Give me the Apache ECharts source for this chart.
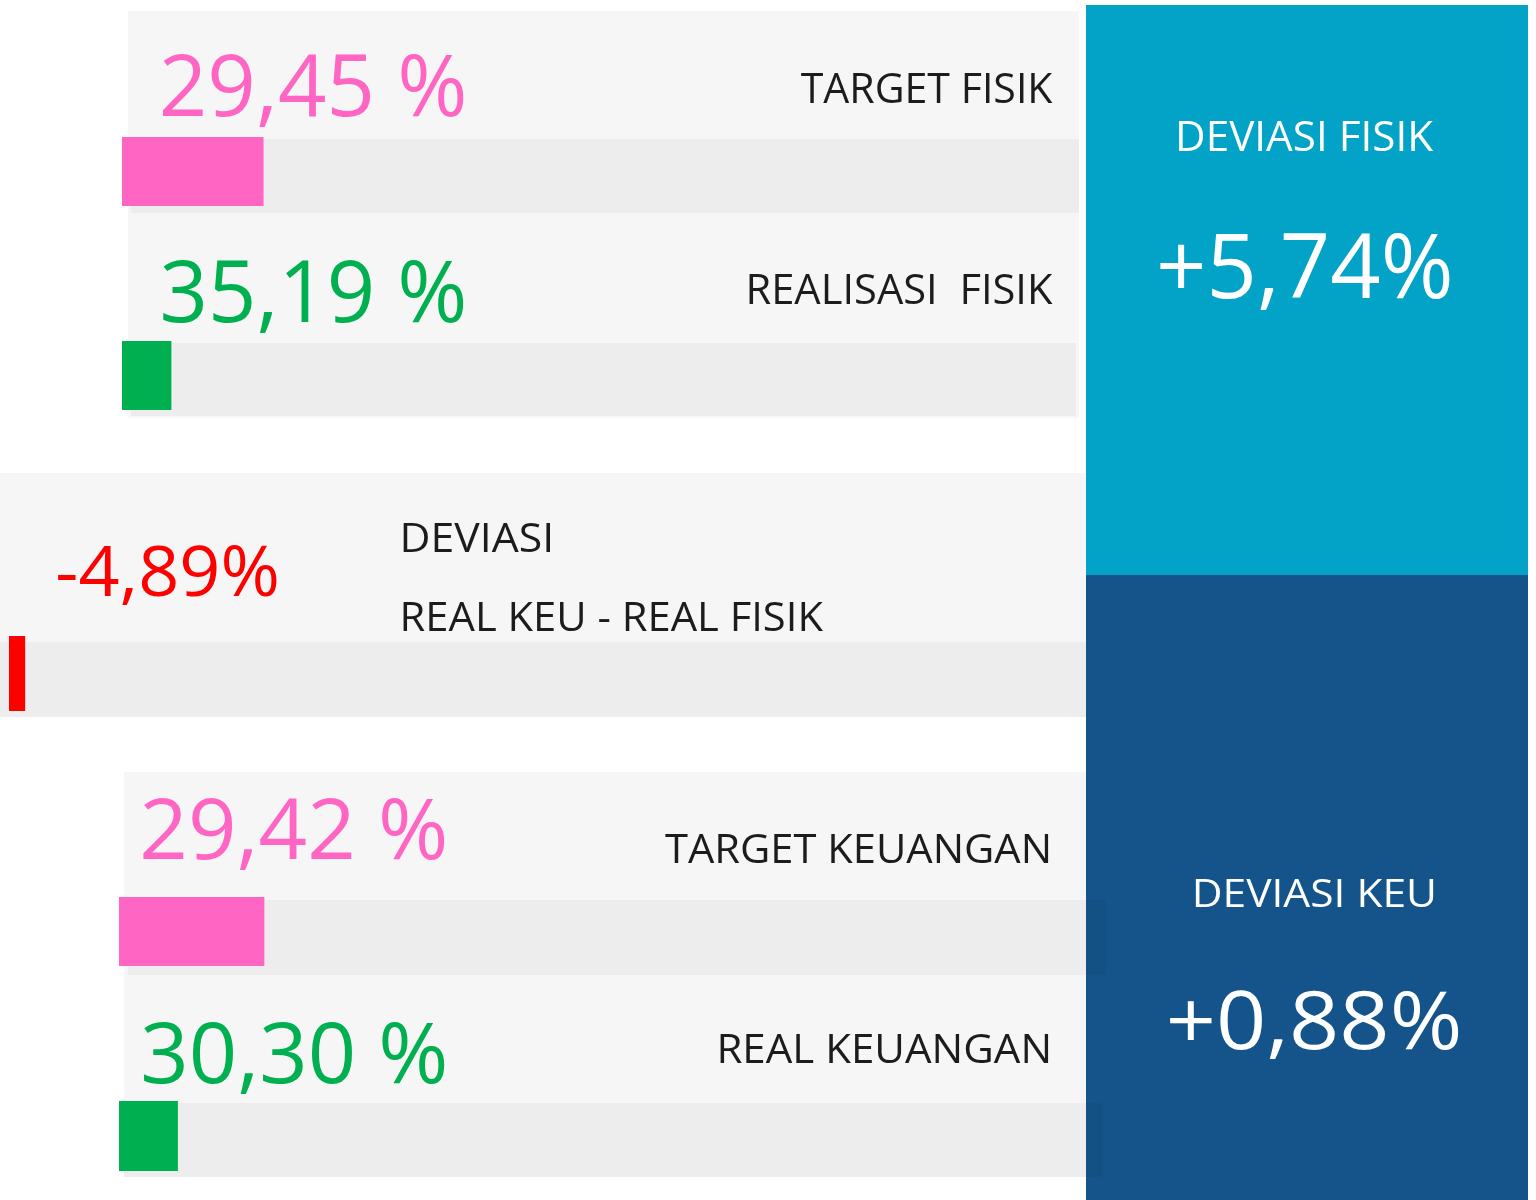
<!DOCTYPE html>
<html>
<head>
<meta charset="utf-8">
<script src="https://cdn.jsdelivr.net/npm/echarts@6/dist/echarts.min.js"></script>
<style>
html,body{margin:0;padding:0;background:#ffffff;}
#chart{width:1536px;height:1200px;}
</style>
</head>
<body>
<div id="chart"></div>
<script>
// ---------------- DATA ----------------
const categories = ['TARGET FISIK', 'REALISASI  FISIK', 'DEVIASI', 'TARGET KEUANGAN', 'REAL KEUANGAN'];
const values = [29.45, 35.19, -4.89, 29.42, 30.30];           // percentages shown
const barFill = [14.9, 5.2, 1.7, 15.3, 6.2];                  // indicator bar length (% of track)
const deviationLabels = ['DEVIASI FISIK', 'DEVIASI KEU'];
const deviationValues = [5.74, 0.88];
const deviasiSubLabel = 'REAL KEU - REAL FISIK';

// ---------------- STYLE / LAYOUT ----------------
const PINK = '#ff66c4', GREEN = '#00b050', RED = '#ff0000';
const CYAN = '#03a2c7', NAVY = '#14548a';
const BG = '#f6f6f6', TRACK = '#ededed', DARK = '#1c1c1c';
const barColors = [PINK, GREEN, RED, PINK, GREEN];
const FONT = '"Open Sans", "Noto Sans", sans-serif';

// bar geometry per row: left, top, height
const barGeo = [
  {left: 122, top: 137, h: 69},
  {left: 122, top: 341, h: 69},
  {left: 9,   top: 636, h: 75},
  {left: 119, top: 897, h: 69},
  {left: 119, top: 1101, h: 70}
];
const TRACK_W = 950;

function fmt(v, sign, space) {
  let s = Math.abs(v).toFixed(2).replace('.', ',');
  if (v < 0) s = '-' + s; else if (sign) s = '+' + s;
  return s + (space ? ' %' : '%');
}

const cv = document.createElement('canvas');
const ctx = cv.getContext('2d');
function fitText(t) {
  const ref = t.ref || 'E';
  ctx.font = '100px ' + FONT;
  ctx.textBaseline = 'alphabetic';
  const r = ctx.measureText(ref).actualBoundingBoxAscent / 100;
  const fs = t.capH / r;
  ctx.font = fs + 'px ' + FONT;
  ctx.textBaseline = 'middle';
  const m = ctx.measureText(t.text);
  const inkW = m.actualBoundingBoxLeft + m.actualBoundingBoxRight;
  const s = (t.right - t.left) / inkW;
  const x = t.left + s * m.actualBoundingBoxLeft;
  const mr = ctx.measureText(ref);
  const y = t.base - mr.actualBoundingBoxDescent;
  return {
    type: 'text', x: x, y: y, scaleX: s, z: 10, silent: true,
    style: {text: t.text, x: 0, y: 0, fontSize: fs, fontFamily: FONT,
            fill: t.color, align: 'left', verticalAlign: 'middle'}
  };
}

const texts = [
  {text: fmt(values[0], false, true), color: PINK, ref: '0', left: 162.7, right: 464, base: 116.7, capH: 64},
  {text: fmt(values[1], false, true), color: GREEN, ref: '0', left: 162.5, right: 464, base: 323, capH: 64},
  {text: fmt(values[2], false, false), color: RED, ref: '0', left: 57.3, right: 276.7, base: 596.7, capH: 52},
  {text: categories[2], color: DARK, left: 402.7, right: 550.7, base: 551.7, capH: 29},
  {text: deviasiSubLabel, color: DARK, left: 402.7, right: 823.3, base: 630.7, capH: 29},
  {text: categories[0], color: DARK, left: 800.7, right: 1053, base: 103.3, capH: 30},
  {text: categories[1], color: DARK, left: 749.5, right: 1053, base: 303.5, capH: 30},
  {text: fmt(values[3], false, true), color: PINK, ref: '0', left: 143.3, right: 445, base: 860, capH: 62},
  {text: fmt(values[4], false, true), color: GREEN, ref: '0', left: 143.3, right: 445, base: 1084, capH: 62},
  {text: categories[3], color: DARK, left: 665, right: 1048.3, base: 863.3, capH: 29.3},
  {text: categories[4], color: DARK, left: 719.5, right: 1048.3, base: 1063, capH: 29.3},
  {text: deviationLabels[0], color: '#ffffff', left: 1179, right: 1434, base: 150.7, capH: 30.7},
  {text: fmt(deviationValues[0], true, false), color: '#ffffff', ref: '0', left: 1160, right: 1450, base: 299, capH: 66},
  {text: deviationLabels[1], color: '#ffffff', left: 1195, right: 1433.3, base: 907.3, capH: 28},
  {text: fmt(deviationValues[1], true, false), color: '#ffffff', ref: '0', left: 1170, right: 1458, base: 1050, capH: 60}
];

function rect(x, y, w, h, fill, z) {
  return {type: 'rect', silent: true, z: z, shape: {x: x, y: y, width: w, height: h}, style: {fill: fill}};
}

const graphics = [
  // panel backgrounds
  rect(128, 11, 951, 202, BG, 0),
  rect(131, 139, 948, 74, TRACK, 1),
  rect(128, 213, 951, 205, BG, 0),
  rect(131, 343, 945, 73, TRACK, 1),
  rect(0, 473, 1090, 244, BG, 0),
  rect(0, 642, 1090, 75, TRACK, 1),
  rect(124, 772, 962, 203, BG, 0),
  rect(128, 900, 958, 75, TRACK, 1),
  rect(124, 975, 962, 202, BG, 0),
  rect(124, 1103, 962, 74, TRACK, 1),
  // right boxes
  rect(1086, 5, 442, 570, CYAN, 3),
  rect(1086, 575, 442, 625, NAVY, 3),
  // tracks overlapping the navy box
  rect(1086, 900, 20, 75, 'rgba(0,0,0,0.045)', 4),
  rect(1086, 1103, 17, 74, 'rgba(0,0,0,0.045)', 4)
].concat(texts.map(fitText));

const grids = [], xAxes = [], yAxes = [], series = [];
barGeo.forEach(function (g, i) {
  grids.push({left: g.left, top: g.top, width: TRACK_W, height: g.h, containLabel: false});
  xAxes.push({type: 'value', gridIndex: i, min: 0, max: 100, show: false});
  yAxes.push({type: 'category', gridIndex: i, data: [categories[i]], show: false});
  series.push({
    type: 'bar', xAxisIndex: i, yAxisIndex: i, data: [barFill[i]],
    barWidth: '100%', z: 5, silent: true,
    itemStyle: {color: barColors[i]}
  });
});

const chart = echarts.init(document.getElementById('chart'), null, {renderer: 'canvas'});
chart.setOption({
  animation: false,
  backgroundColor: '#ffffff',
  grid: grids,
  xAxis: xAxes,
  yAxis: yAxes,
  series: series,
  graphic: {elements: graphics}
});
</script>
</body>
</html>
